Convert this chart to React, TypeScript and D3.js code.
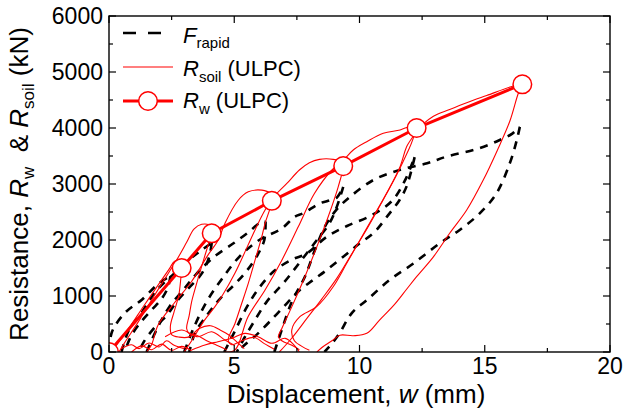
import React from "react";
import * as d3 from "d3";

const W = 626;
const H = 414;
const xDomain: [number, number] = [0, 20];
const yDomain: [number, number] = [0, 6000];
const xMajor = [0, 5, 10, 15, 20];
const xMinor = [2.5, 7.5, 12.5, 17.5];
const yMajor = [0, 1000, 2000, 3000, 4000, 5000, 6000];
const yMinor = [500, 1500, 2500, 3500, 4500, 5500];

// R_w (ULPC) points
const rwX = [0, 2.9, 4.1, 6.5, 9.35, 12.28, 16.5];
const rwY = [0, 1500, 2120, 2700, 3320, 4000, 4780];

// R_soil (ULPC) cycles [displacement, resistance]
const rsoil1: [number, number][] = [[0.15,0],[0.3,120],[0.8,430],[1.4,830],[2.0,1220],[2.4,1480],[2.62,1620],[2.8,1620],[2.9,1500],[2.87,1330],[2.78,1000],[2.6,720],[2.45,460],[2.5,310],[2.8,265],[3.2,270],[3.6,420],[4.05,470],[4.45,390],[4.8,300],[5.1,180],[5.4,60]];
const rsoil2: [number, number][] = [[0.4,0],[0.6,150],[1.2,560],[1.8,1000],[2.4,1430],[2.8,1720],[3.1,1960],[3.4,2200],[3.7,2280],[4.0,2270],[4.15,2200],[4.1,2120],[3.95,1900],[3.78,1650],[3.62,1410],[3.45,1150],[3.3,900],[3.2,650],[3.1,420],[3.2,330],[3.5,300],[3.9,200],[4.3,120],[4.7,40]];
const rsoil3: [number, number][] = [[1.5,0],[1.7,130],[1.96,480],[2.6,870],[3.29,1255],[3.95,1730],[4.35,1990],[4.63,2300],[5.16,2710],[5.56,2860],[6.1,2890],[6.43,2830],[6.5,2700],[6.43,2566],[6.23,2298],[6.1,2060],[5.83,1640],[5.56,1226],[5.3,870],[5.03,510],[4.76,214],[4.9,130],[5.3,200],[5.8,260],[6.2,150],[6.6,50]];
const rsoil4: [number, number][] = [[3.0,0],[3.3,200],[3.8,560],[4.23,810],[4.5,990],[5.03,1410],[5.83,2180],[6.23,2535],[6.6,2780],[7.1,3010],[7.6,3250],[8.0,3380],[8.4,3440],[8.95,3440],[9.3,3390],[9.35,3320],[9.15,2950],[8.75,2415],[8.35,1940],[7.82,1345],[7.3,810],[6.9,420],[6.76,273],[6.9,200],[7.3,120],[7.6,40]];
const rsoil5: [number, number][] = [[4.6,0],[5.03,36],[5.55,630],[6.23,1107],[6.9,1640],[7.56,2240],[8.2,2830],[8.9,3250],[9.35,3420],[9.75,3607],[10.29,3755],[10.95,3905],[11.62,3964],[12.0,4023],[12.3,4000],[11.88,3666],[11.62,3310],[11.08,2834],[10.55,2416],[10.02,2000],[9.49,1584],[8.95,1166],[8.29,810],[7.62,630],[7.3,400],[7.4,200],[7.7,100],[8.0,30]];
const rsoil6: [number, number][] = [[6.8,0],[7.3,250],[7.9,600],[8.5,950],[9.1,1320],[9.7,1760],[10.3,2200],[10.9,2680],[11.5,3180],[12.0,3650],[12.3,3950],[12.95,4210],[13.6,4330],[14.28,4450],[15.08,4580],[16.14,4750],[16.5,4780],[16.34,4620],[16.0,4120],[15.5,3600],[14.94,3070],[14.28,2535],[13.6,2120],[12.95,1700],[12.28,1345],[11.88,1120],[11.4,850],[10.8,570],[10.29,333],[9.75,290],[9.22,300],[8.9,200],[8.5,80],[8.3,0]];
const rsoilBottom1: [number, number][] = [[2.24,273],[2.9,393],[3.55,273],[4.1,362],[4.63,214],[5.0,120]];
const rsoilBottom2: [number, number][] = [[3.3,36],[3.83,125],[4.35,184],[4.9,244],[5.43,333],[5.95,273],[6.5,155],[7.03,244],[7.4,120],[7.6,0]];
const rsoilBottom3: [number, number][] = [[0.5,60],[0.9,130],[1.2,60],[1.6,160],[2.0,90],[2.3,200],[2.6,120],[3.0,60]];
const rsoilBottom4: [number, number][] = [[0.9,0],[1.3,110],[1.7,40],[2.1,140],[2.5,30],[2.9,100],[3.3,20]];
const rsoilCycles = [rsoil1, rsoil2, rsoil3, rsoil4, rsoil5, rsoil6, rsoilBottom1, rsoilBottom2, rsoilBottom3, rsoilBottom4];

// F_rapid cycles
const frap1Load: [number, number][] = [[0,0],[0.12,360],[0.64,700],[1.3,930],[2.0,1230],[2.45,1350]];
const frap1Unload: [number, number][] = [[2.45,1350],[2.35,1150],[2.1,950],[1.7,750],[1.3,550],[0.9,300],[0.7,100],[0.6,0]];
const frap2Load: [number, number][] = [[0.5,0],[0.8,400],[1.24,660],[1.9,1100],[2.6,1400],[3.2,1650],[3.7,1820],[4.1,1950]];
const frap2Unload: [number, number][] = [[4.1,1950],[4.0,1700],[3.7,1400],[3.2,1150],[2.7,900],[2.3,650],[1.84,450],[1.36,160],[1.2,0]];
const frap3Load: [number, number][] = [[1.5,0],[1.9,400],[2.4,800],[2.95,1100],[3.5,1400],[4.2,1700],[5.0,1950],[5.6,2150],[6.0,2300],[6.25,2330]];
const frap3Unload: [number, number][] = [[6.25,2330],[6.2,2000],[5.95,1750],[5.5,1450],[5.0,1200],[4.43,950],[3.9,650],[3.43,340],[3.3,160],[3.2,0]];
const frap4Load: [number, number][] = [[3.0,0],[3.4,450],[3.9,900],[4.5,1300],[5.2,1700],[6.0,2000],[6.9,2208],[7.42,2417],[7.75,2476],[8.42,2655],[8.75,2700],[9.1,2760],[9.35,2950]];
const frap4Unload: [number, number][] = [[9.35,2950],[9.1,2600],[8.8,2300],[8.3,2000],[7.7,1650],[7.0,1250],[6.3,900],[5.8,550],[5.4,250],[5.1,0]];
const frap5Load: [number, number][] = [[4.6,0],[5.0,350],[5.5,800],[6.0,1150],[6.6,1450],[7.3,1650],[7.9,1760],[8.7,2060],[9.5,2250],[10.5,2445],[11.3,2700],[11.8,3050],[12.2,3480]];
const frap5Unload: [number, number][] = [[12.2,3480],[11.9,2980],[11.6,2714],[11.2,2476],[10.55,2120],[10.0,1940],[9.35,1700],[8.69,1464],[8.15,1286],[7.62,1107],[7.1,870],[6.6,630],[5.95,333],[5.4,120],[5.1,0]];
const frap6Load: [number, number][] = [[6.6,0],[6.9,400],[7.3,900],[7.82,1345],[8.22,1820],[8.62,2240],[9.1,2550],[9.62,2770],[10.55,3070],[11.6,3250],[12.7,3370],[13.48,3490],[14.8,3640],[15.6,3786],[16.1,3900],[16.4,4020]];
const frap6Unload: [number, number][] = [[16.4,4020],[16.28,3786],[16.0,3370],[15.47,2834],[14.8,2476],[14.0,2180],[13.2,1940],[12.15,1580],[11.2,1286],[10.3,930],[9.7,700],[9.2,333],[8.9,150],[8.6,0]];
const frapCycles = [frap1Load, frap1Unload, frap2Load, frap2Unload, frap3Load, frap3Unload, frap4Load, frap4Unload, frap5Load, frap5Unload, frap6Load, frap6Unload];

const X0 = 109, X1 = 610, Y0 = 352, Y1 = 16;
const FONT = "'Liberation Sans', Arial, sans-serif";

export default function App() {
  const x = d3.scaleLinear().domain(xDomain).range([X0, X1]);
  const y = d3.scaleLinear().domain(yDomain).range([Y0, Y1]);
  const line = d3.line<[number, number]>().x(d => x(d[0])).y(d => y(d[1])).curve(d3.curveCatmullRom.alpha(0.5));
  const rwPts: [number, number][] = rwX.map((v, i) => [v, rwY[i]]);
  const rwLine = d3.line<[number, number]>().x(d => x(d[0])).y(d => y(d[1]));

  return (
    <svg width={W} height={H} style={{ position: "absolute", left: 0, top: 0, background: "#fff" }} fontFamily={FONT}>
      <defs>
        <clipPath id="plot">
          <rect x={X0} y={Y1} width={X1 - X0} height={Y0 - Y1} />
        </clipPath>
      </defs>
      <rect width={W} height={H} fill="#fff" />
      <g clipPath="url(#plot)">
        {frapCycles.map((c, i) => (
          <path key={"f" + i} d={line(c) || ""} fill="none" stroke="#000" strokeWidth={2.6} strokeDasharray="8 7" />
        ))}
        {rsoilCycles.map((c, i) => (
          <path key={"r" + i} d={line(c) || ""} fill="none" stroke="#ff0000" strokeWidth={1.1} />
        ))}
        <path d={rwLine(rwPts) || ""} fill="none" stroke="#ff0000" strokeWidth={3} />
        {rwPts.map((p, i) => (
          <circle key={"c" + i} cx={x(p[0])} cy={y(p[1])} r={9.3} fill="#fff" stroke="#ff0000" strokeWidth={1.5} />
        ))}
      </g>
      {/* frame */}
      <rect x={X0} y={Y1} width={X1 - X0} height={Y0 - Y1} fill="none" stroke="#000" strokeWidth={1.4} />
      {/* ticks */}
      {xMajor.map(v => (
        <g key={"xm" + v}>
          <line x1={x(v)} x2={x(v)} y1={Y0} y2={Y0 - 7} stroke="#000" strokeWidth={1.2} />
          <line x1={x(v)} x2={x(v)} y1={Y1} y2={Y1 + 7} stroke="#000" strokeWidth={1.2} />
          <text x={x(v)} y={374} fontSize={23} textAnchor="middle">{v}</text>
        </g>
      ))}
      {xMinor.map(v => (
        <g key={"xn" + v}>
          <line x1={x(v)} x2={x(v)} y1={Y0} y2={Y0 - 4} stroke="#000" strokeWidth={1.2} />
          <line x1={x(v)} x2={x(v)} y1={Y1} y2={Y1 + 4} stroke="#000" strokeWidth={1.2} />
        </g>
      ))}
      {yMajor.map(v => (
        <g key={"ym" + v}>
          <line x1={X0} x2={X0 + 7} y1={y(v)} y2={y(v)} stroke="#000" strokeWidth={1.2} />
          <line x1={X1} x2={X1 - 7} y1={y(v)} y2={y(v)} stroke="#000" strokeWidth={1.2} />
          <text x={103} y={y(v) + 8.2} fontSize={23} textAnchor="end">{v}</text>
        </g>
      ))}
      {yMinor.map(v => (
        <g key={"yn" + v}>
          <line x1={X0} x2={X0 + 4} y1={y(v)} y2={y(v)} stroke="#000" strokeWidth={1.2} />
          <line x1={X1} x2={X1 - 4} y1={y(v)} y2={y(v)} stroke="#000" strokeWidth={1.2} />
        </g>
      ))}
      {/* axis titles */}
      <text x={356} y={403} fontSize={26} textAnchor="middle">
        Displacement, <tspan fontStyle="italic">w</tspan> (mm)
      </text>
      <text transform={`translate(28,184) rotate(-90)`} fontSize={26} textAnchor="middle">
        Resistance, <tspan fontStyle="italic">R</tspan><tspan fontSize={17} dy={6}>w</tspan><tspan dy={-6} xmlSpace="preserve">{"  & "}</tspan><tspan fontStyle="italic">R</tspan><tspan fontSize={17} dy={6}>soil</tspan><tspan dy={-6}> (kN)</tspan>
      </text>
      {/* legend */}
      <line x1={123} x2={161} y1={33} y2={33} stroke="#000" strokeWidth={2.6} strokeDasharray="13 12" />
      <text x={183} y={43} fontSize={22}>
        <tspan fontStyle="italic">F</tspan><tspan fontSize={15} dy={5}>rapid</tspan>
      </text>
      <line x1={123} x2={173} y1={67} y2={67} stroke="#ff0000" strokeWidth={1.1} />
      <text x={183} y={76} fontSize={22}>
        <tspan fontStyle="italic">R</tspan><tspan fontSize={15} dy={6}>soil</tspan><tspan dy={-6}> (ULPC)</tspan>
      </text>
      <line x1={123} x2={173} y1={101} y2={101} stroke="#ff0000" strokeWidth={3} />
      <circle cx={148} cy={101} r={9.3} fill="#fff" stroke="#ff0000" strokeWidth={1.5} />
      <text x={183} y={108} fontSize={22}>
        <tspan fontStyle="italic">R</tspan><tspan fontSize={15} dy={6}>w</tspan><tspan dy={-6}> (ULPC)</tspan>
      </text>
    </svg>
  );
}
